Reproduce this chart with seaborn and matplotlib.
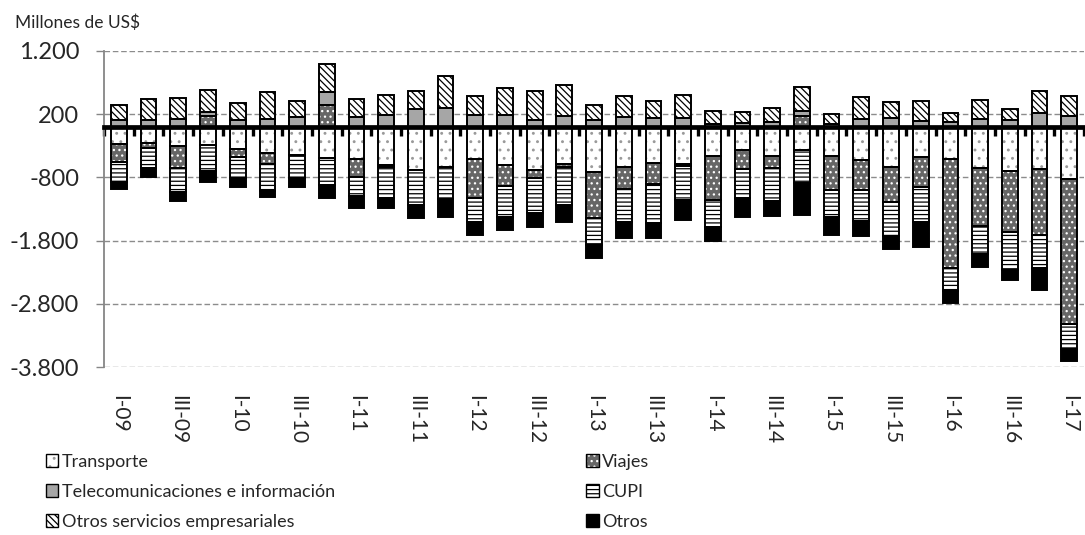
import numpy as np
import seaborn as sns
import matplotlib.pyplot as plt
from matplotlib.patches import Patch
from matplotlib.ticker import FuncFormatter

# =====================================================
# DATA  (Millones de US$, por trimestre)
# =====================================================

quarters = [
    "I-09", "II-09", "III-09", "IV-09",
    "I-10", "II-10", "III-10", "IV-10",
    "I-11", "II-11", "III-11", "IV-11",
    "I-12", "II-12", "III-12", "IV-12",
    "I-13", "II-13", "III-13", "IV-13",
    "I-14", "II-14", "III-14", "IV-14",
    "I-15", "II-15", "III-15", "IV-15",
    "I-16", "II-16", "III-16", "IV-16",
    "I-17",
]

transporte = [
    -276, -250, -302, -292, -355, -418, -450, -487,
    -503, -598, -680, -640, -514, -609, -683, -588,
    -715, -636, -577, -593, -461, -360, -461, -370,
    -461, -530, -635, -471, -503, -645, -698, -672,
    -830,
]

viajes = [
    -280, -84, -349, 168, -116, -164, 0, 347,
    -290, -40, 0, 0, -608, -328, -121, -48,
    -723, -342, -333, -30, -700, -312, -184, 173,
    -545, -476, -555, -481, -1735, -925, -960, -1046,
    -2290,
]

telecom = [
    110, 114, 125, 74, 110, 131, 163, 206,
    157, 184, 285, 305, 187, 189, 109, 173,
    109, 157, 147, 132, 50, 60, 70, 79,
    50, 131, 147, 94, 75, 120, 105, 213,
    173,
]

cupi = [
    -312, -323, -375, -406, -343, -433, -354, -433,
    -302, -493, -560, -508, -390, -491, -554, -602,
    -439, -529, -618, -540, -420, -449, -529, -525,
    -421, -486, -539, -554, -365, -439, -605, -512,
    -400,
]

otros_emp = [
    238, 328, 333, 338, 264, 417, 248, 439,
    290, 327, 282, 502, 303, 418, 450, 491,
    233, 333, 254, 369, 202, 177, 232, 375,
    150, 343, 248, 317, 150, 306, 185, 356,
    317,
]

otros = [
    -122, -137, -154, -169, -133, -95, -142, -211,
    -196, -160, -195, -285, -200, -206, -222, -263,
    -201, -259, -227, -313, -227, -303, -238, -507,
    -291, -238, -201, -391, -185, -206, -165, -350,
    -180,
]

y_ticks = [-3800, -2800, -1800, -800, 200, 1200]

# stacking order (same as the spreadsheet series order)
series = [
    ("Transporte", transporte),
    ("Viajes", viajes),
    ("Telecomunicaciones e información", telecom),
    ("CUPI", cupi),
    ("Otros servicios empresariales", otros_emp),
    ("Otros", otros),
]

# face colour, hatch, hatch colour
styles = {
    "Transporte": ("white", "..", "#9a9a9a"),
    "Viajes": ("#666666", "...", "white"),
    "Telecomunicaciones e información": ("#a6a6a6", "", "#a6a6a6"),
    "CUPI": ("white", "----", "black"),
    "Otros servicios empresariales": ("white", "\\\\\\\\\\", "black"),
    "Otros": ("black", "", "black"),
}

# =====================================================
# FIGURE
# =====================================================

sns.set_style("white")
plt.rcParams["font.family"] = ["Lato", "DejaVu Sans"]
plt.rcParams["hatch.linewidth"] = 0.9

fig = plt.figure(figsize=(10.85, 5.35), dpi=100)
ax = fig.add_axes([0.0959, 0.314, 0.9032, 0.5907])

n = len(quarters)
bar_w = 0.53

pos_base = np.zeros(n)
neg_base = np.zeros(n)
bottoms = {}

for name, values in series:
    vals = np.array(values, dtype=float)
    bottoms[name] = np.where(vals >= 0, pos_base, neg_base)
    pos_base = pos_base + np.where(vals > 0, vals, 0)
    neg_base = neg_base + np.where(vals < 0, vals, 0)

# fills with hatch
for name, values in series:
    face, hatch, hcolor = styles[name]
    sns.barplot(
        x=quarters,
        y=values,
        order=quarters,
        bottom=bottoms[name],
        color=face,
        saturation=1,
        width=bar_w,
        errorbar=None,
        hatch=hatch,
        edgecolor=hcolor,
        linewidth=0,
        ax=ax
    )

# black outlines
for name, values in series:
    sns.barplot(
        x=quarters,
        y=values,
        order=quarters,
        bottom=bottoms[name],
        color="black",
        fill=False,
        width=bar_w,
        errorbar=None,
        edgecolor="black",
        linewidth=1.4,
        ax=ax
    )

# =====================================================
# AXES
# =====================================================

ax.set_xlim(-0.5, n - 0.5)
ax.set_ylim(y_ticks[0], y_ticks[-1])
ax.set_xlabel("")
ax.set_ylabel("")

for side in ["top", "right"]:
    ax.spines[side].set_visible(False)

ax.spines["left"].set_color("#868686")
ax.spines["left"].set_linewidth(1.3)

# thick zero line with the category boundary ticks
ax.spines["bottom"].set_position(("data", 0))
ax.spines["bottom"].set_linewidth(3.4)
ax.spines["bottom"].set_color("black")
ax.spines["bottom"].set_zorder(3)
ax.set_xticks(np.arange(n + 1) - 0.5)
ax.tick_params(
    axis="x", direction="out", length=6.5, width=2.4,
    color="black", labelbottom=False, bottom=True
)

ax.set_yticks(y_ticks)
ax.yaxis.set_major_formatter(
    FuncFormatter(lambda v, p: f"{int(v):,}".replace(",", "."))
)
ax.tick_params(
    axis="y", direction="out", length=6, width=1,
    color="#868686", labelsize=17, pad=12, left=True
)
ax.yaxis.grid(True, color="#8c8c8c", linestyle=(0, (4, 2)), linewidth=1)
ax.set_axisbelow(True)

# quarter labels at the bottom
sec = ax.secondary_xaxis("bottom")
sec.set_xticks(np.arange(0, n, 2), labels=quarters[::2])
sec.tick_params(length=0, pad=20, labelsize=15, labelrotation=-90)
sec.spines["bottom"].set_visible(False)

fig.text(0.014, 0.957, "Millones de US$", fontsize=12.5, va="center", ha="left")

# =====================================================
# LEGEND (two columns)
# =====================================================

def legend_handle(name):
    face, hatch, hcolor = styles[name]
    return (
        Patch(facecolor=face, hatch=hatch, edgecolor=hcolor, linewidth=0),
        Patch(facecolor="none", edgecolor="black", linewidth=1),
    )

col_1 = ["Transporte", "Telecomunicaciones e información", "Otros servicios empresariales"]
col_2 = ["Viajes", "CUPI", "Otros"]

for names, x0 in [(col_1, 0.042), (col_2, 0.54)]:
    fig.legend(
        [legend_handle(nm) for nm in names],
        names,
        loc="upper left",
        bbox_to_anchor=(x0, 0.152),
        frameon=False,
        fontsize=13,
        handlelength=0.7,
        handleheight=0.7,
        handletextpad=0.2,
        labelspacing=0.78,
        borderpad=0,
        borderaxespad=0
    )

fig.savefig("out.png", dpi=100)
